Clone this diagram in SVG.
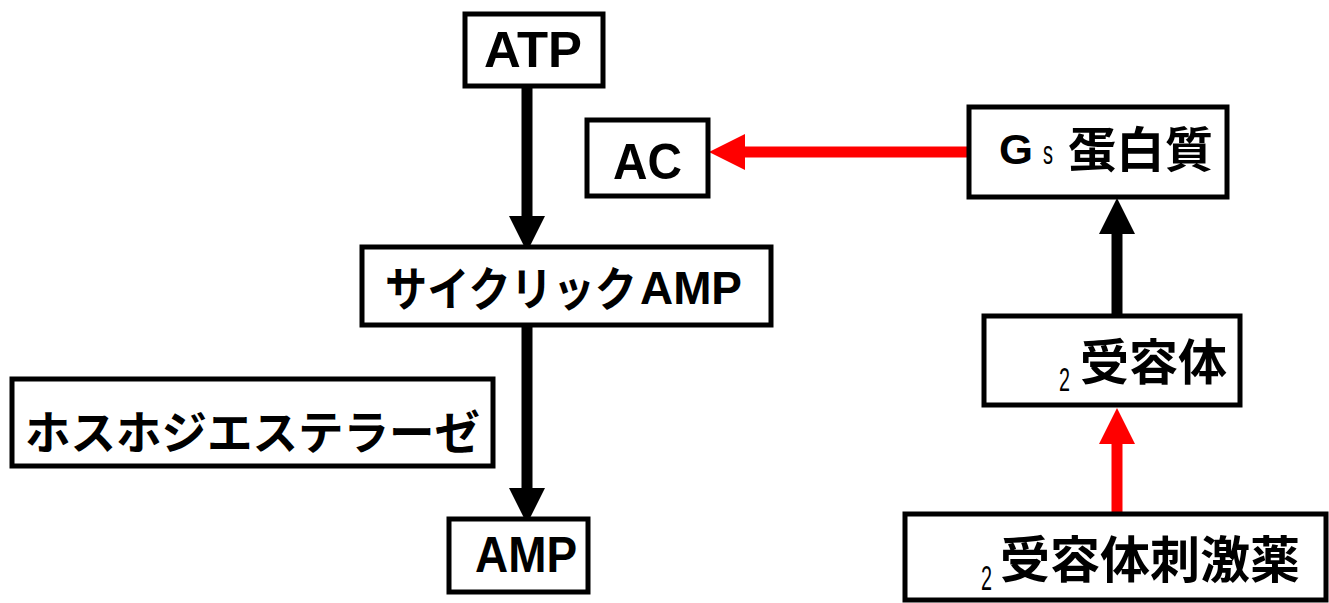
<svg xmlns="http://www.w3.org/2000/svg" width="1329" height="603" viewBox="0 0 1329 603">
<style>
.box{fill:#fff;stroke:#000;stroke-width:5}
.lat{font-family:"Liberation Sans",Arial,sans-serif;font-weight:700;fill:#000}
.jp{font-family:"Noto Sans CJK JP","Noto Sans CJK SC",sans-serif;font-weight:700;fill:#000}
.sub{font-family:"Liberation Sans",Arial,sans-serif;font-weight:400;fill:#000}
.blk{stroke:#000;stroke-width:11;fill:none}
.red{stroke:#f00;stroke-width:11;fill:none}
</style>
<defs>
<marker id="hb" markerUnits="userSpaceOnUse" markerWidth="36" markerHeight="36" refX="0" refY="18" orient="auto"><path d="M0,0 L36,18 L0,36 z" fill="#000"/></marker>
<marker id="hr" markerUnits="userSpaceOnUse" markerWidth="36" markerHeight="36" refX="0" refY="18" orient="auto"><path d="M0,0 L36,18 L0,36 z" fill="#f00"/></marker>
</defs>
<rect width="1329" height="603" fill="#fff"/>
<g id="connectors">
<line class="blk" x1="527" y1="87" x2="527" y2="216" marker-end="url(#hb)"/>
<line class="blk" x1="527" y1="327" x2="527" y2="488" marker-end="url(#hb)"/>
<line class="red" x1="967" y1="152" x2="745" y2="152" marker-end="url(#hr)"/>
<line class="blk" x1="1117" y1="314" x2="1117" y2="234" marker-end="url(#hb)"/>
<line class="red" x1="1117" y1="512" x2="1117" y2="444" marker-end="url(#hr)"/>
</g>
<g id="atp">
<rect class="box" x="465" y="14" width="138" height="72"/>
<text class="lat" x="484" y="67" font-size="50" textLength="98" lengthAdjust="spacingAndGlyphs">ATP</text>
</g>
<g id="ac">
<rect class="box" x="587" y="120" width="121" height="76"/>
<text class="lat" x="613" y="179" font-size="50" textLength="69" lengthAdjust="spacingAndGlyphs">AC</text>
</g>
<g id="camp">
<rect class="box" x="362" y="247" width="409" height="78"/>
<text class="jp" x="385" y="306" font-size="42" textLength="252" lengthAdjust="spacingAndGlyphs" transform="translate(385 306) scale(1 1.1) translate(-385 -306)">サイクリック</text>
<text class="lat" x="640" y="304" font-size="46" textLength="102" lengthAdjust="spacingAndGlyphs">AMP</text>
</g>
<g id="pde">
<rect class="box" x="12" y="379" width="481" height="87"/>
<text class="jp" x="25" y="449" font-size="46" textLength="455" lengthAdjust="spacingAndGlyphs">ホスホジエステラーゼ</text>
</g>
<g id="amp">
<rect class="box" x="449" y="519" width="139" height="73"/>
<text class="lat" x="475" y="572" font-size="50" textLength="102" lengthAdjust="spacingAndGlyphs">AMP</text>
</g>
<g id="gs">
<rect class="box" x="969" y="107" width="258" height="90"/>
<text class="lat" x="999" y="164" font-size="43" textLength="34" lengthAdjust="spacingAndGlyphs">G</text>
<text class="sub" x="1043" y="164" font-size="34" textLength="10" lengthAdjust="spacingAndGlyphs">s</text>
<text class="jp" x="1068" y="167" font-size="48" textLength="145" lengthAdjust="spacingAndGlyphs">蛋白質</text>
</g>
<g id="b2r">
<rect class="box" x="984" y="316" width="256" height="89"/>
<text class="sub" x="1059" y="391" font-size="34" textLength="11" lengthAdjust="spacingAndGlyphs">2</text>
<text class="jp" x="1080" y="380" font-size="49" textLength="147" lengthAdjust="spacingAndGlyphs">受容体</text>
</g>
<g id="agonist">
<rect class="box" x="905" y="514" width="421" height="86"/>
<text class="sub" x="981" y="590" font-size="35" textLength="11" lengthAdjust="spacingAndGlyphs">2</text>
<text class="jp" x="1000" y="578" font-size="50" textLength="300" lengthAdjust="spacingAndGlyphs">受容体刺激薬</text>
</g>
</svg>
